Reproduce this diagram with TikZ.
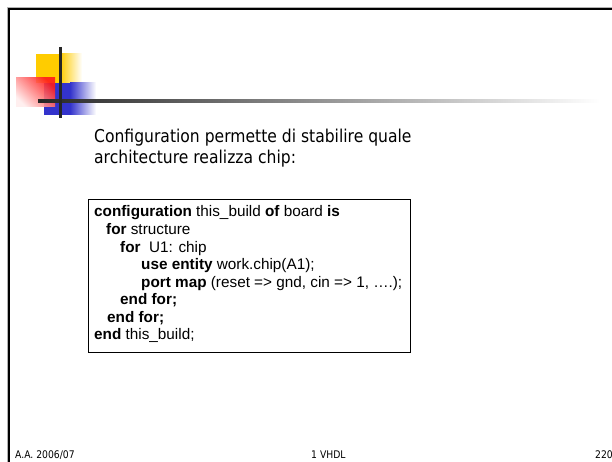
\documentclass[tikz,border=0pt]{standalone}
\usepackage{fontspec}
\setmainfont{Liberation Sans}
\newfontfamily\slidefont[FakeStretch=0.88]{DejaVu Sans}

\definecolor{decoyellow}{HTML}{FFCC00}
\definecolor{decoblue}{HTML}{3333CC}
\definecolor{decored}{HTML}{FF1A1A}

\tikzset{
  titleline/.style={anchor=base west, inner sep=0pt, font=\slidefont\fontsize{17.7}{21}\selectfont},
  codeline/.style={anchor=base west, inner sep=0pt, font=\fontsize{15.3}{17.6}\selectfont},
  footline/.style={anchor=base west, inner sep=0pt, font=\slidefont\fontsize{10.5}{12}\selectfont},
  codebox/.style={draw, line width=1pt, anchor=north west, inner sep=0pt},
}

\begin{document}
\begin{tikzpicture}[x=1pt, y=-1pt]
    \useasboundingbox (0,0) rectangle (612,462);

    % Slide frame
    \draw[gray!60, line width=1pt] (7.2,462) -- (7.2,7.2) -- (612,7.2);
    \draw[black, line width=2.5pt] (9.2,462) -- (9.2,9.2) -- (612,9.2);

    % Corner squares
    \fill[decoyellow] (36,54) rectangle (60,83);
    \shade[left color=decoyellow, right color=white] (60,54) rectangle (82,83);
    \fill[decoblue] (44,83) rectangle (70,115);
    \shade[left color=decoblue, right color=white] (70,83) rectangle (96,115);
    \shade[shading=axis, top color=decored, bottom color=decored!8, shading angle=-45, fill opacity=0.9]
        (16,78) rectangle (55,107);

    % Cross lines
    \shade[left color=black!85, middle color=gray!90, right color=white] (38,99.6) rectangle (600,102.6);
    \draw[black!85, line width=3pt] (60,47) -- (60,118);

    % Title
    \node[titleline] (title1) at (94,143) {Configuration permette di stabilire quale};
    \node[titleline] (title2) at (94,164) {architecture realizza chip:};

    % Code box
    \node[codebox, minimum width=322pt, minimum height=153pt] (box) at (88,199) {};
    \foreach \ind/\txt [count=\i from 0] in {
        0/{\textbf{configuration} this\_build \textbf{of} board \textbf{is}},
        12/{\textbf{for} structure},
        26/{\textbf{for}\ \ U1: chip},
        47/{\textbf{use entity} work.chip(A1);},
        47/{\textbf{port map} (reset => gnd, cin => 1, ….);},
        26/{\textbf{end for;}},
        13/{\textbf{end for;}},
        0/{\textbf{end} this\_build;}
    } {
        \node[codeline] (code\i) at (94+\ind, 217+17.5*\i) {\txt};
    }

    % Footer
    \node[footline] (year) at (15,458) {A.A. 2006/07};
    \node[footline] (course) at (311,458) {1 VHDL};
    \node[footline] (page) at (595,458) {220};
\end{tikzpicture}
\end{document}
